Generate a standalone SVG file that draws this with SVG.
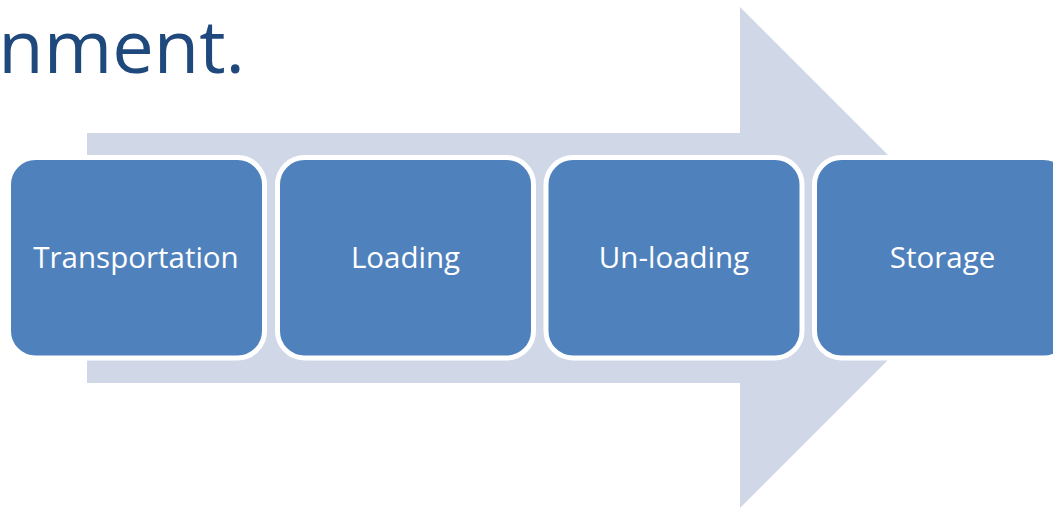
<svg xmlns="http://www.w3.org/2000/svg" width="1053" height="508" viewBox="0 0 1053 508">
  <style>
    .box { fill: #4F81BD; stroke: #FFFFFF; stroke-width: 5; }
    .lbl { font-family: "Open Sans", "Liberation Sans", sans-serif; font-size: 29.5px; fill: #FFFFFF; text-anchor: middle; }
    .title { font-family: "Open Sans", "Liberation Sans", sans-serif; font-size: 74px; fill: #1F497D; }
  </style>
  <rect width="1053" height="508" fill="#FFFFFF"/>
  <text class="title" x="245" y="73" text-anchor="end">nment.</text>
  <g id="connectors">
    <polygon id="arrow" points="87,133 740,133 740,7 990.5,257.5 740,508 740,383 87,383" fill="#D0D8E8"/>
  </g>
  <g id="node-transportation">
    <rect class="box" x="8.5" y="157.5" width="256" height="200.5" rx="27" ry="27"/>
    <text class="lbl" x="136" y="268">Transportation</text>
  </g>
  <g id="node-loading">
    <rect class="box" x="277.5" y="157.5" width="256" height="200.5" rx="27" ry="27"/>
    <text class="lbl" x="405.5" y="268">Loading</text>
  </g>
  <g id="node-unloading">
    <rect class="box" x="546" y="157.5" width="256" height="200.5" rx="27" ry="27"/>
    <text class="lbl" x="674" y="268">Un-loading</text>
  </g>
  <g id="node-storage">
    <rect class="box" x="814.5" y="157.5" width="256" height="200.5" rx="27" ry="27"/>
    <text class="lbl" x="942.5" y="268">Storage</text>
  </g>
</svg>
